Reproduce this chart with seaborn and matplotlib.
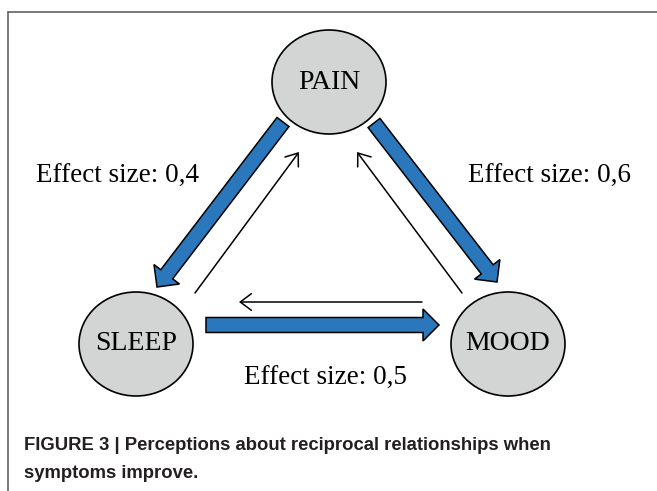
import matplotlib
matplotlib.use("Agg")
import matplotlib.pyplot as plt
from matplotlib.patches import Ellipse, FancyArrow, FancyArrowPatch
import seaborn as sns

# Diagram content
nodes = ["PAIN", "SLEEP", "MOOD"]
effect_sizes = [0.4, 0.6, 0.5]
strong_links = [("PAIN", "SLEEP"), ("PAIN", "MOOD"), ("SLEEP", "MOOD")]
weak_links = [("SLEEP", "PAIN"), ("MOOD", "PAIN"), ("MOOD", "SLEEP")]
caption_lines = ["FIGURE 3 | Perceptions about reciprocal relationships when",
                 "symptoms improve."]

# Layout (pixel coordinates, y down)
W, H = 657, 491
node_pos = {"PAIN": (329, 82), "SLEEP": (136, 344), "MOOD": (508, 344)}
node_radii = (57, 52)
strong_ends = {("PAIN", "SLEEP"): ((283, 122), (157, 287)),
               ("PAIN", "MOOD"): ((374, 123), (497, 282)),
               ("SLEEP", "MOOD"): ((206, 325), (439, 325))}
weak_ends = {("SLEEP", "PAIN"): ((195, 293), (299, 152)),
             ("MOOD", "PAIN"): ((462, 293), (357, 152)),
             ("MOOD", "SLEEP"): ((422, 302), (239, 302))}
label_pos = [(118, 176), (550, 176), (326, 378)]

sns.set_theme(style="white")
serif = "Liberation Serif"

fig = plt.figure(figsize=(W / 100, H / 100), dpi=100)
ax = fig.add_axes([0, 0, 1, 1])
ax.set_xlim(0, W)
ax.set_ylim(H, 0)
ax.axis("off")

# frame (top and left only)
ax.plot([7.5, W], [11.5, 11.5], color="#555555", lw=1.1)
ax.plot([7.5, 7.5], [11.5, H], color="#555555", lw=1.1)

blue = "#2b77bb"
for link in strong_links:
    (x0, y0), (x1, y1) = strong_ends[link]
    ax.add_patch(FancyArrow(x0, y0, x1 - x0, y1 - y0, width=15, head_width=32,
                            head_length=16, length_includes_head=True,
                            fc=blue, ec="black", lw=1.1, zorder=2))

for link in weak_links:
    p0, p1 = weak_ends[link]
    ax.add_patch(FancyArrowPatch(p0, p1, arrowstyle="->,head_length=0.4,head_width=0.3",
                                 mutation_scale=20, color="black", lw=1.1,
                                 shrinkA=0, shrinkB=0, zorder=2))

for name in nodes:
    cx, cy = node_pos[name]
    ax.add_patch(Ellipse((cx, cy), 2 * node_radii[0], 2 * node_radii[1],
                         fc="#d3d4d4", ec="black", lw=1.2, zorder=3))
    ax.text(cx, cy, name, ha="center", va="center", fontsize=20,
            family=serif, color="black", zorder=4)

for (x, y), val in zip(label_pos, effect_sizes):
    txt = "Effect size: " + f"{val:.1f}".replace(".", ",")
    ax.text(x, y, txt, ha="center", va="center", fontsize=19.5,
            family=serif, color="black")

for i, line in enumerate(caption_lines):
    ax.text(24, 446 + i * 27, line, ha="left", va="center", fontsize=13.3,
            family="Liberation Sans", fontweight="bold", color="#231f20")

fig.savefig("out.png", dpi=100)
